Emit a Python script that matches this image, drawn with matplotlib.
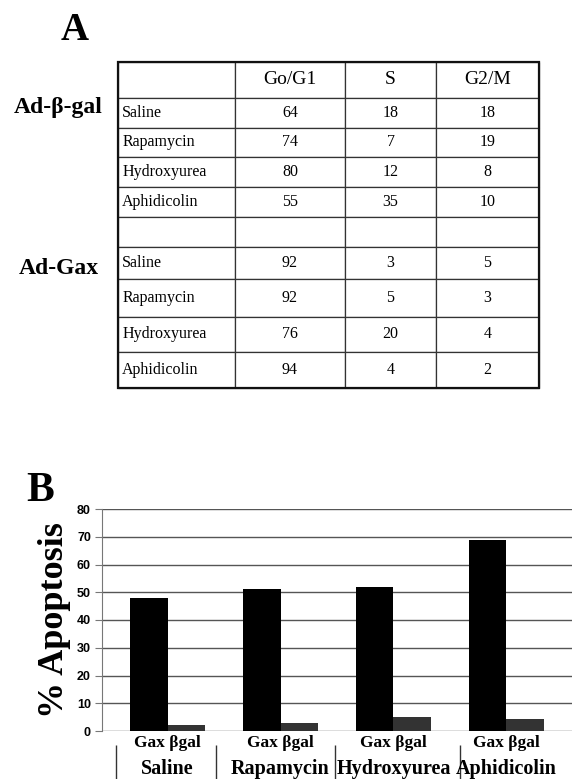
import matplotlib
matplotlib.use("Agg")
import matplotlib.pyplot as plt
import numpy as np

# ── Data ─────────────────────────────────────────────────────────────────────
PHASES = ["Go/G1", "S", "G2/M"]
TREATMENTS = ["Saline", "Rapamycin", "Hydroxyurea", "Aphidicolin"]

BGAL_G1 = [64, 74, 80, 55]
BGAL_S = [18, 7, 12, 35]
BGAL_G2M = [18, 19, 8, 10]

GAX_G1 = [92, 92, 76, 94]
GAX_S = [3, 5, 20, 4]
GAX_G2M = [5, 3, 4, 2]

APOP_GAX = [48, 51, 52, 69]
APOP_BGAL = [2, 3, 5, 4.5]

Y_TICKS = [0, 10, 20, 30, 40, 50, 60, 70, 80]

SERIF = ["Liberation Serif", "DejaVu Serif"]
SANS = ["Liberation Sans", "DejaVu Sans"]

W, H = 573, 779
fig = plt.figure(figsize=(W / 100, H / 100), dpi=100)


def fbox(x0, y0, x1, y1):
    """pixel box (top-left origin) -> figure fraction rect"""
    return [x0 / W, 1 - y1 / H, (x1 - x0) / W, (y1 - y0) / H]


# ── Panel A: table ───────────────────────────────────────────────────────────
fig.text(75 / W, 1 - 30 / H, "A", family=SERIF, fontsize=28, fontweight="bold",
         ha="center", va="center")
fig.text(58 / W, 1 - 107 / H, "Ad-β-gal", family=SERIF, fontsize=17,
         fontweight="bold", ha="center", va="center")
fig.text(59 / W, 1 - 268 / H, "Ad-Gax", family=SERIF, fontsize=17,
         fontweight="bold", ha="center", va="center")

rows = [[t, str(a), str(b), str(c)] for t, a, b, c in zip(TREATMENTS, BGAL_G1, BGAL_S, BGAL_G2M)]
rows.append(["", "", "", ""])
rows += [[t, str(a), str(b), str(c)] for t, a, b, c in zip(TREATMENTS, GAX_G1, GAX_S, GAX_G2M)]

ax_t = fig.add_axes(fbox(118, 62, 539, 388))
ax_t.axis("off")
col_w = [117, 110, 91, 103]
row_h = [36, 30, 29, 30, 30, 30, 32, 38, 35, 36]
tbl = ax_t.table(cellText=rows, colLabels=[""] + PHASES, colWidths=col_w,
                 cellLoc="center", bbox=[0, 0, 1, 1])
tbl.auto_set_font_size(False)
for (r, c), cell in tbl.get_celld().items():
    cell.set_height(row_h[r])
    cell.set_edgecolor("#333333")
    cell.set_linewidth(0.9)
    txt = cell.get_text()
    txt.set_fontfamily(SERIF)
    if r == 0:
        txt.set_fontsize(14)
    else:
        txt.set_fontsize(11.5)
    if c == 0:
        cell.PAD = 0.035
        txt.set_horizontalalignment("left")
        cell._loc = "left"
ax_t.add_patch(plt.Rectangle((0, 0), 1, 1, transform=ax_t.transAxes, fill=False,
                             edgecolor="#111111", linewidth=1.6, zorder=5, clip_on=False))

# ── Panel B: apoptosis bars ─────────────────────────────────────────────────
fig.text(40 / W, 1 - 491 / H, "B", family=SERIF, fontsize=30, fontweight="bold",
         ha="center", va="center")

ax = fig.add_axes(fbox(102, 509, 572, 731))
x = np.arange(len(TREATMENTS))
bw = 0.33
ax.bar(x - bw / 2, APOP_GAX, width=bw, color="black", zorder=3)
ax.bar(x + bw / 2, APOP_BGAL, width=bw, color="#333333", zorder=3)

ax.set_xlim(-0.58, 3.58)
ax.set_ylim(0, 80)
ax.set_yticks(Y_TICKS)
ax.set_yticklabels([str(v) for v in Y_TICKS], family=SANS, fontsize=9,
                   fontweight="bold")
ax.yaxis.grid(True, color="#555555", linewidth=1.0)
ax.set_axisbelow(True)
ax.set_xticks([])
for s in ["top", "right", "bottom"]:
    ax.spines[s].set_visible(False)
ax.spines["left"].set_color("#777777")
ax.tick_params(axis="y", length=5, color="#777777", pad=3)
ax.set_ylabel("% Apoptosis", family=SERIF, fontsize=26, fontweight="bold",
              labelpad=4)

trans = ax.get_xaxis_transform()
for i, name in enumerate(TREATMENTS):
    ax.text(x[i], -0.02, "Gax βgal", transform=trans, family=SERIF,
            fontsize=12.5, fontweight="bold", ha="center", va="top")
    ax.text(x[i], -0.125, name, transform=trans, family=SERIF,
            fontsize=14.5, fontweight="bold", ha="center", va="top")

SEPARATORS = [-0.46, 0.43, 1.48, 2.59]
ax.vlines(SEPARATORS, -0.25, -0.063, transform=trans, color="#333333",
          linewidth=1.0, clip_on=False)

fig.savefig("out.png", dpi=100)
